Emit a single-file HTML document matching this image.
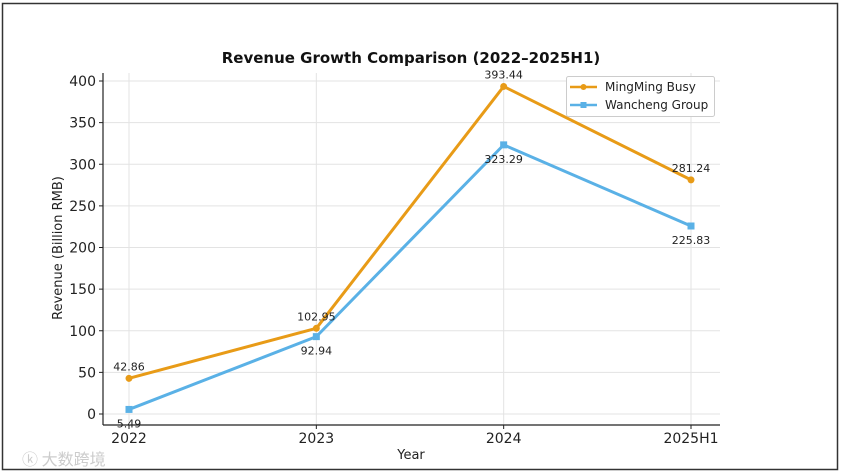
<!DOCTYPE html>
<html><head><meta charset="utf-8"><style>
body{margin:0;background:#fff;width:842px;height:474px;overflow:hidden}
svg{display:block;font-family:"DejaVu Sans","Liberation Sans",sans-serif}
</style></head><body>
<svg id="c" width="842" height="474">
<rect x="2.5" y="3.5" width="835" height="466" fill="#fff" stroke="#333" stroke-width="1.5"/>
<text x="411" y="63" text-anchor="middle" font-size="15" font-weight="bold" fill="#111">Revenue Growth Comparison (2022–2025H1)</text>
<g id="grid"></g>
<g id="axes"></g>
<g id="series"></g>
<text x="411" y="459" text-anchor="middle" font-size="13" fill="#222">Year</text>
<text transform="translate(62,248) rotate(-90)" text-anchor="middle" font-size="13" fill="#222">Revenue (Billion RMB)</text>
<g>
<rect x="566.5" y="76.5" width="148" height="40" rx="2" fill="#fff" stroke="#ccc"/>
<g>
<line x1="570" y1="87" x2="597" y2="87" stroke="#E89B17" stroke-width="2.5"/><circle cx="583.5" cy="87" r="3" fill="#E89B17"/>
<text x="605" y="91" font-size="12" fill="#222">MingMing Busy</text></g>
<g>
<line x1="570" y1="105" x2="597" y2="105" stroke="#5AB1E6" stroke-width="2.5"/><rect x="580.5" y="102" width="6" height="6" fill="#5AB1E6"/>
<text x="605" y="109" font-size="12" fill="#222">Wancheng Group</text></g>
</g>
<text x="22" y="465" font-size="16" fill="#ccc" font-family="'Noto Sans CJK SC',sans-serif">ⓚ 大数跨境</text>
</svg>
<script>
const categories=["2022","2023","2024","2025H1"];
const mingming=[42.86,102.95,393.44,281.24];
const wancheng=[5.49,92.94,323.29,225.83];
const yTicks=[0,50,100,150,200,250,300,350,400];
const NS="http://www.w3.org/2000/svg";
const X0=129,X1=691,Y0=414,Y400=81;
const xs=i=>X0+i*(X1-X0)/(categories.length-1);
const ys=v=>Y0-v*(Y0-Y400)/400;
function mk(t,a,p){const e=document.createElementNS(NS,t);for(const k in a)e.setAttribute(k,a[k]);p.appendChild(e);return e;}
const g=document.getElementById('grid'),ax=document.getElementById('axes'),s=document.getElementById('series');
yTicks.forEach(v=>{
 const l=mk('line',{x1:103,x2:720,y1:ys(v),y2:ys(v),stroke:'#e3e3e3','stroke-width':1},g);
 
 
 mk('line',{x1:99,x2:103,y1:ys(v),y2:ys(v),stroke:'#222'},ax);
 const t=mk('text',{x:96,y:ys(v)+5,'text-anchor':'end','font-size':14,fill:'#222'},ax);t.textContent=v;
 
 
});
categories.forEach((c,i)=>{
 const l=mk('line',{x1:xs(i),x2:xs(i),y1:73,y2:425,stroke:'#e3e3e3'},g);
 
 
 mk('line',{x1:xs(i),x2:xs(i),y1:425,y2:429,stroke:'#222'},ax);
 const t=mk('text',{x:xs(i),y:443,'text-anchor':'middle','font-size':14,fill:'#222'},ax);t.textContent=c;
 
 
});
mk('line',{x1:103,x2:103,y1:73,y2:425,stroke:'#222','stroke-width':1.2},ax);
mk('line',{x1:103,x2:720,y1:425,y2:425,stroke:'#222','stroke-width':1.2},ax);
function series(d,col,sq,name,above){
 const p=mk('polyline',{points:d.map((v,i)=>xs(i)+','+ys(v)).join(' '),fill:'none',stroke:col,'stroke-width':3,'stroke-linejoin':'round'},s);
 
 
 d.forEach((v,i)=>{
  const m=sq?mk('rect',{x:xs(i)-3.5,y:ys(v)-3.5,width:7,height:7,fill:col},s):mk('circle',{cx:xs(i),cy:ys(v),r:3.5,fill:col},s);
  
  
  const t=mk('text',{x:xs(i),y:above?ys(v)-8:ys(v)+18,'text-anchor':'middle','font-size':11,fill:'#222'},s);t.textContent=v.toFixed(2);
  
  
 });
}
series(wancheng,'#5AB1E6',true,'wancheng',false);
series(mingming,'#E89B17',false,'mingming',true);
</script>
</body></html>
